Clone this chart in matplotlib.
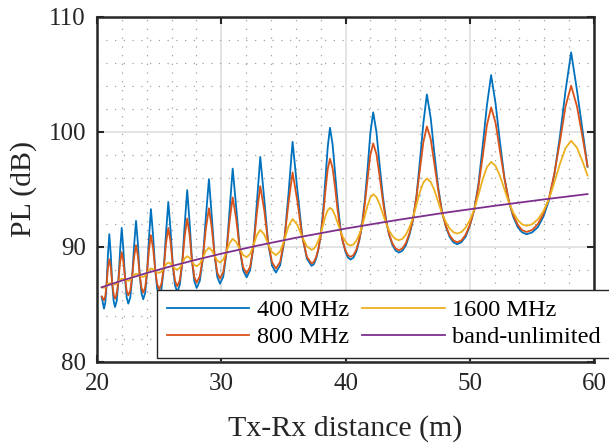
import matplotlib
matplotlib.use('Agg')
import matplotlib.pyplot as plt
from matplotlib.ticker import MultipleLocator

plt.rcParams['font.family'] = ['Liberation Serif', 'DejaVu Serif']

# ---------------- data ----------------
distance = [
    20.38, 20.56, 20.67, 20.775, 20.88, 20.99, 21.11, 21.22, 21.34, 21.45,
    21.59, 21.72, 21.86, 21.99, 22.12, 22.26, 22.39, 22.52,
    22.68, 22.83, 22.99, 23.14, 23.29, 23.43, 23.58, 23.72,
    23.88, 24.03, 24.19, 24.34, 24.51, 24.68, 24.84, 25.01,
    25.19, 25.38, 25.56, 25.74,
    25.92, 26.10, 26.28, 26.46,
    26.66, 26.86, 27.06, 27.26,
    27.45, 27.64, 27.83, 28.02,
    28.27, 28.52, 28.76, 29.01,
    29.23, 29.46, 29.68, 29.90,
    30.16, 30.41, 30.67, 30.92,
    31.20, 31.48, 31.76, 32.04,
    32.32, 32.59, 32.87, 33.14,
    33.46, 33.77, 34.09, 34.40,
    34.74, 35.07, 35.41, 35.74,
    36.12, 36.51, 36.89, 37.27,
    37.46, 37.64, 37.83, 38.01, 38.20, 38.38, 38.57, 38.75,
    38.96, 39.17, 39.37, 39.58, 39.79, 40.00, 40.20, 40.41,
    40.64, 40.87, 41.09, 41.32, 41.55, 41.78, 42.00, 42.23,
    42.49, 42.75, 43.01, 43.27, 43.52, 43.78, 44.04, 44.30,
    44.58, 44.86, 45.14, 45.43, 45.71, 45.99, 46.27, 46.55,
    46.86, 47.16, 47.47, 47.77, 48.08, 48.38, 48.69, 48.99,
    49.33, 49.67, 50.01, 50.36, 50.70, 51.04, 51.38, 51.72,
    52.08, 52.43, 52.79, 53.15, 53.50, 53.86, 54.21, 54.57,
    55.02, 55.47, 55.92, 56.37, 56.81, 57.26, 57.71, 58.16,
    58.63, 59.10, 59.48,
]

pl_400 = [
    85.65, 84.64, 85.16, 86.77, 89.29, 91.10, 89.33, 86.87, 85.29, 84.78,
    85.32, 87.01, 89.69, 91.65, 89.81, 87.24, 85.60, 85.07,
    85.62, 87.37, 90.17, 92.26, 90.32, 87.66, 85.98, 85.45,
    86.02, 87.80, 90.89, 93.28, 91.04, 88.12, 86.36, 85.80,
    86.37, 88.19, 91.30, 93.89,
    91.47, 88.43, 86.65, 86.09,
    86.69, 88.59, 91.97, 94.93,
    92.17, 88.90, 87.03, 86.43,
    87.04, 88.98, 92.58, 95.89,
    92.75, 89.33, 87.40, 86.80,
    87.41, 89.40, 93.15, 96.80,
    93.49, 89.90, 87.96, 87.35,
    87.97, 89.99, 93.87, 97.82,
    94.15, 90.38, 88.38, 87.77,
    88.41, 90.47, 94.59, 99.13,
    95.01, 91.02, 88.98, 88.35,
    88.51, 88.99, 89.83, 91.09, 93.15, 95.79, 98.67, 100.35,
    98.92, 96.34, 93.82, 91.74, 90.45, 89.56, 89.07, 88.90,
    89.07, 89.58, 90.47, 91.82, 94.02, 96.83, 99.90, 101.69,
    99.98, 97.06, 94.38, 92.29, 91.01, 90.16, 89.67, 89.51,
    89.67, 90.13, 91.02, 92.33, 94.39, 97.48, 100.78, 103.25,
    101.17, 98.04, 95.11, 93.03, 91.75, 90.87, 90.39, 90.23,
    90.41, 90.89, 91.85, 93.24, 95.45, 98.76, 102.28, 104.93,
    102.44, 99.12, 96.01, 93.94, 92.62, 91.72, 91.27, 91.10,
    91.26, 91.70, 92.60, 94.02, 96.31, 99.63, 103.58, 106.90,
    103.60, 99.90, 96.96,
]

pl_800 = [
    85.70, 85.37, 85.74, 86.79, 88.18, 88.93, 88.21, 86.87, 85.86, 85.50,
    85.90, 87.08, 88.65, 89.54, 88.74, 87.28, 86.17, 85.80,
    86.22, 87.45, 89.15, 90.15, 89.22, 87.62, 86.43, 86.03,
    86.49, 87.84, 89.82, 91.02, 89.92, 88.06, 86.77, 86.32,
    86.80, 88.21, 90.34, 91.65,
    90.43, 88.41, 87.05, 86.58,
    87.09, 88.59, 90.93, 92.47,
    91.05, 88.85, 87.39, 86.90,
    87.43, 89.05, 91.58, 93.36,
    91.72, 89.32, 87.77, 87.25,
    87.80, 89.51, 92.25, 94.30,
    92.45, 89.88, 88.23, 87.70,
    88.26, 90.02, 92.97, 95.28,
    93.18, 90.39, 88.67, 88.12,
    88.71, 90.57, 93.80, 96.47,
    94.02, 90.93, 89.14, 88.56,
    88.71, 89.14, 89.89, 91.00, 92.75, 94.84, 96.75, 97.66,
    96.85, 95.10, 93.14, 91.50, 90.43, 89.70, 89.28, 89.13,
    89.29, 89.76, 90.57, 91.77, 93.67, 95.93, 98.00, 98.99,
    98.06, 96.11, 93.98, 92.20, 91.06, 90.30, 89.86, 89.71,
    89.87, 90.33, 91.16, 92.38, 94.34, 96.70, 99.13, 100.47,
    99.36, 97.15, 94.88, 93.00, 91.81, 91.01, 90.56, 90.40,
    90.56, 91.06, 91.92, 93.21, 95.26, 97.84, 100.57, 102.12,
    100.77, 98.33, 95.95, 93.98, 92.76, 91.93, 91.46, 91.30,
    91.47, 91.97, 92.86, 94.20, 96.38, 99.17, 102.22, 104.00,
    102.20, 99.40, 97.00,
]

pl_1600 = [
    86.50, 86.44, 86.50, 86.64, 86.79, 86.85, 86.83, 86.79, 86.75, 86.73,
    86.80, 86.97, 87.16, 87.24, 87.21, 87.14, 87.08, 87.05,
    87.14, 87.35, 87.58, 87.67, 87.63, 87.52, 87.43, 87.39,
    87.49, 87.74, 88.01, 88.12, 88.06, 87.92, 87.79, 87.74,
    87.86, 88.16, 88.50, 88.64,
    88.55, 88.32, 88.11, 88.03,
    88.18, 88.57, 89.00, 89.19,
    89.05, 88.73, 88.44, 88.32,
    88.52, 89.06, 89.65, 89.92,
    89.71, 89.24, 88.81, 88.64,
    88.89, 89.56, 90.33, 90.70,
    90.43, 89.84, 89.30, 89.10,
    89.38, 90.13, 91.03, 91.48,
    91.08, 90.25, 89.54, 89.28,
    89.62, 90.57, 91.78, 92.43,
    91.91, 90.88, 90.05, 89.75,
    89.84, 90.13, 90.59, 91.21, 91.93, 92.66, 93.19, 93.39,
    93.21, 92.70, 92.08, 91.43, 90.87, 90.46, 90.21, 90.12,
    90.22, 90.53, 91.04, 91.74, 92.66, 93.60, 94.29, 94.58,
    94.32, 93.70, 92.86, 92.03, 91.40, 90.95, 90.67, 90.58,
    90.70, 91.07, 91.69, 92.53, 93.64, 94.77, 95.60, 95.95,
    95.64, 94.90, 93.89, 92.90, 92.15, 91.60, 91.27, 91.16,
    91.29, 91.68, 92.33, 93.25, 94.52, 95.86, 96.92, 97.39,
    97.03, 96.17, 95.00, 93.85, 92.98, 92.34, 91.96, 91.83,
    91.97, 92.38, 93.09, 94.12, 95.60, 97.22, 98.59, 99.22,
    98.62, 97.36, 96.20,
]

dist_unlimited = [20.38, 22, 24, 26, 28, 30, 33, 36, 40, 44, 48, 52, 56, 59.48]
pl_unlimited = [86.49, 87.07, 87.73, 88.33, 88.89, 89.41, 90.13, 90.79,
                91.59, 92.31, 92.97, 93.57, 94.13, 94.59]

labels = ['400 MHz', '800 MHz', '1600 MHz', 'band-unlimited']
colors = ['#0072BD', '#D95319', '#EDB120', '#7E2F8E']
x_ticks = [20, 30, 40, 50, 60]
y_ticks = [80, 90, 100, 110]

# ---------------- figure ----------------
W, H = 609, 443
fig = plt.figure(figsize=(W / 100, H / 100), dpi=100)
ax = fig.add_axes([97 / W, 81 / H, 497 / W, 345.3 / H])

lw = 1.3
ax.plot(distance, pl_400, color=colors[0], lw=lw, label=labels[0])
ax.plot(distance, pl_800, color=colors[1], lw=lw, label=labels[1])
ax.plot(distance, pl_1600, color=colors[2], lw=lw, label=labels[2])
ax.plot(dist_unlimited, pl_unlimited, color=colors[3], lw=lw, label=labels[3])

ax.set_xlim(20, 60)
ax.set_ylim(80, 110)
ax.set_xticks(x_ticks)
ax.set_yticks(y_ticks)
ax.xaxis.set_minor_locator(MultipleLocator(2))
ax.yaxis.set_minor_locator(MultipleLocator(2))

ax.set_axisbelow(True)
ax.grid(which='major', color='#dcdcdc', lw=1.1, ls='-')
ax.grid(which='minor', color='#a0a0a0', lw=0.9, ls=(0, (1, 6)))

dark = '#262626'
for s in ax.spines.values():
    s.set_linewidth(1.8)
    s.set_color(dark)
ax.tick_params(which='major', direction='in', length=5, width=1.5,
               top=True, right=True, labelsize=18, pad=8, color=dark,
               labelcolor=dark)
ax.tick_params(which='minor', length=0)

ax.set_xlabel('Tx-Rx distance (m)', fontsize=21.5, color=dark)
ax.set_ylabel('PL (dB)', fontsize=21.5, color=dark)
ax.xaxis.set_label_coords(0.5, -0.155)
ax.yaxis.set_label_coords(-0.12, 0.5)

leg = ax.legend(ncol=2, loc='lower left',
                bbox_to_anchor=(157 / W, 85 / H), bbox_transform=fig.transFigure,
                fontsize=17.5, frameon=True, fancybox=False, edgecolor=dark,
                framealpha=1, borderaxespad=0, handlelength=3.4,
                handletextpad=0.3, columnspacing=0.55, labelspacing=0.2,
                borderpad=0.4)
leg.get_frame().set_linewidth(1.0)
for t in leg.get_texts():
    t.set_color('black')

fig.savefig('out.png', dpi=100)
